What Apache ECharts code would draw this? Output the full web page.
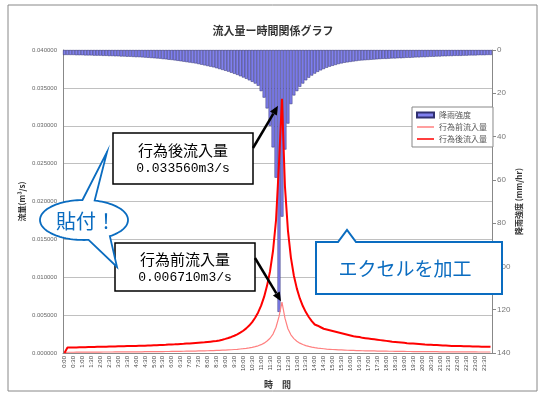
<!DOCTYPE html>
<html>
<head>
<meta charset="utf-8">
<script src="https://cdn.jsdelivr.net/npm/echarts@6/dist/echarts.min.js"></script>
<style>
  html, body { margin: 0; padding: 0; background: #fff; }
  #chart { width: 552px; height: 398px; }
</style>
</head>
<body>
<div id="chart"></div>
<script>
// 10分刻みの時刻 (0:00 - 23:50)
var times = [];
for (var h = 0; h < 24; h++) {
  for (var m = 0; m < 60; m += 10) times.push(h + ':' + (m < 10 ? '0' + m : m));
}

// 降雨強度 (mm/hr)
var rain = [
  2.3, 2.3, 2.3, 2.3, 2.4, 2.4, 2.4, 2.5, 2.5, 2.5,
  2.6, 2.6, 2.6, 2.7, 2.7, 2.8, 2.8, 2.9, 2.9, 3.0,
  3.0, 3.1, 3.1, 3.2, 3.3, 3.3, 3.4, 3.5, 3.6, 3.7,
  3.8, 3.9, 4.0, 4.2, 4.3, 4.5, 4.6, 4.8, 5.0, 5.2,
  5.4, 5.6, 5.8, 6.0, 6.2, 6.5, 6.8, 7.1, 7.4, 7.7,
  8.0, 8.4, 8.8, 9.2, 9.6, 10.0, 10.5, 11.0, 11.5, 12.1,
  12.7, 13.3, 14.0, 14.7, 15.5, 16.5, 19, 22, 27, 35,
  45, 59, 121,
  77, 46, 34, 25, 21, 19, 17, 15.5, 14, 12.8,
  11.8, 10.9, 10.1, 9.4, 8.8, 8.2, 7.7, 7.3, 6.9, 6.5,
  6.2, 5.9, 5.7, 5.5, 5.3, 5.1, 4.9, 4.8, 4.7, 4.6,
  4.5, 4.4, 4.3, 4.2, 4.1, 4.1, 4.0, 3.9, 3.9, 3.8,
  3.8, 3.7, 3.6, 3.6, 3.5, 3.4, 3.4, 3.3, 3.3, 3.2,
  3.1, 3.1, 3.0, 3.0, 2.9, 2.9, 2.8, 2.8, 2.7, 2.7,
  2.7, 2.6, 2.6, 2.5, 2.5, 2.5, 2.4, 2.4, 2.4, 2.3,
  2.3
];

// 行為前流入量 (m3/s)
var flowBefore = [
  0,
  0.00010, 0.00010, 0.00010, 0.00011, 0.00011, 0.00011, 0.00011, 0.00012, 0.00012, 0.00012,
  0.00012, 0.00012, 0.00013, 0.00013, 0.00013, 0.00013, 0.00014, 0.00014, 0.00014, 0.00014,
  0.00015, 0.00015, 0.00015, 0.00016, 0.00016, 0.00016, 0.00017, 0.00017, 0.00017, 0.00018,
  0.00018, 0.00019, 0.00019, 0.00020, 0.00020, 0.00021, 0.00021, 0.00022, 0.00022, 0.00023,
  0.00024, 0.00024, 0.00025, 0.00026, 0.00027, 0.00028, 0.00029, 0.00030, 0.00031, 0.00032,
  0.00034, 0.00035, 0.00037, 0.00039, 0.00041, 0.00043, 0.00046, 0.00049, 0.00053, 0.00057,
  0.00062, 0.00068, 0.00075, 0.00084, 0.00095, 0.00110, 0.00130, 0.00158, 0.00195, 0.00250,
  0.00340, 0.00480, 0.00671, 0.00460, 0.00320, 0.00240, 0.00190, 0.00155, 0.00130, 0.00112,
  0.00098, 0.00087, 0.00078, 0.00071, 0.00065, 0.00060, 0.00056, 0.00052, 0.00049, 0.00046,
  0.00044, 0.00042, 0.00040, 0.00038, 0.00036, 0.00035, 0.00034, 0.00032, 0.00031, 0.00030,
  0.00029, 0.00028, 0.00027, 0.00027, 0.00026, 0.00025, 0.00025, 0.00024, 0.00023, 0.00023,
  0.00022, 0.00022, 0.00021, 0.00021, 0.00020, 0.00020, 0.00019, 0.00019, 0.00019, 0.00018,
  0.00018, 0.00018, 0.00017, 0.00017, 0.00017, 0.00016, 0.00016, 0.00016, 0.00016, 0.00015,
  0.00015, 0.00015, 0.00015, 0.00014, 0.00014, 0.00014, 0.00014, 0.00014, 0.00013, 0.00013,
  0.00013, 0.00013, 0.00013
];

// 行為後流入量 (m3/s)
var flowAfter = [
  0,
  0.00072, 0.00073, 0.00074, 0.00074, 0.00075, 0.00076, 0.00077, 0.00078, 0.00079, 0.00080,
  0.00081, 0.00082, 0.00083, 0.00084, 0.00085, 0.00086, 0.00087, 0.00088, 0.00089, 0.00090,
  0.00091, 0.00092, 0.00093, 0.00094, 0.00095, 0.00096, 0.00097, 0.00099, 0.00100, 0.00102,
  0.00103, 0.00105, 0.00107, 0.00109, 0.00111, 0.00113, 0.00115, 0.00117, 0.00119, 0.00121,
  0.00124, 0.00127, 0.00130, 0.00133, 0.00136, 0.00139, 0.00142, 0.00146, 0.00150, 0.00154,
  0.00158, 0.00166, 0.00175, 0.00186, 0.00198, 0.00212, 0.00228, 0.00246, 0.00268, 0.00294,
  0.00325, 0.00362, 0.00408, 0.00465, 0.00535, 0.00625, 0.00740, 0.00890, 0.01080, 0.01350,
  0.01750, 0.02500, 0.03356, 0.02200, 0.01620, 0.01260, 0.01020, 0.00850, 0.00720, 0.00620,
  0.00540, 0.00475, 0.00420, 0.00376, 0.00360, 0.00340, 0.00320, 0.00310, 0.00300, 0.00290,
  0.00280, 0.00270, 0.00260, 0.00250, 0.00240, 0.00230, 0.00220, 0.00215, 0.00210, 0.00200,
  0.00195, 0.00190, 0.00185, 0.00180, 0.00175, 0.00170, 0.00165, 0.00160, 0.00155, 0.00150,
  0.00146, 0.00142, 0.00138, 0.00134, 0.00130, 0.00127, 0.00124, 0.00121, 0.00118, 0.00115,
  0.00112, 0.00110, 0.00108, 0.00106, 0.00104, 0.00102, 0.00100, 0.00098, 0.00096, 0.00094,
  0.00093, 0.00092, 0.00091, 0.00090, 0.00089, 0.00088, 0.00087, 0.00086, 0.00085, 0.00084,
  0.00083, 0.00082, 0.00081
];

var peakBeforeIdx = 73;
var peakAfterIdx = 73;

var jp = '"Noto Sans CJK JP", sans-serif';
var mono = '"Liberation Mono", "DejaVu Sans Mono", monospace';

var myChart = echarts.init(document.getElementById('chart'));

var option = {
  animation: false,
  backgroundColor: '#fff',
  title: {
    text: '流入量ー時間関係グラフ',
    left: 268,
    top: 20,
    textAlign: 'center',
    textStyle: { fontFamily: jp, fontSize: 11, fontWeight: 'bold', color: '#333' }
  },
  legend: {
    orient: 'vertical',
    left: 412,
    top: 107,
    padding: [4, 6, 4, 4],
    itemGap: 4,
    itemWidth: 17,
    itemHeight: 5,
    backgroundColor: '#fff',
    borderColor: '#888',
    borderWidth: 1,
    textStyle: { fontFamily: jp, fontSize: 8, color: '#555' },
    data: [
      { name: '降雨強度', icon: 'rect' },
      { name: '行為前流入量', icon: 'path://M0,0 L0,5 M0,2 L20,2 L20,3 L0,3 Z' },
      { name: '行為後流入量', icon: 'path://M0,0 L0,5 M0,1.5 L20,1.5 L20,3.5 L0,3.5 Z' }
    ]
  },
  grid: { left: 63, right: 60, top: 50, bottom: 45 },
  xAxis: {
    type: 'category',
    data: times,
    boundaryGap: true,
    name: '時　間',
    nameLocation: 'middle',
    nameGap: 27,
    nameMoveOverlap: false,
    nameTextStyle: { fontFamily: jp, fontSize: 9, fontWeight: 'bold', color: '#333' },
    axisLine: { lineStyle: { color: '#888' } },
    axisTick: { interval: 0, length: 2, lineStyle: { color: '#888' } },
    axisLabel: { interval: 2, rotate: 90, fontSize: 6, color: '#444', margin: 3, fontFamily: 'Arial, "Liberation Sans", sans-serif' }
  },
  yAxis: [
    {
      type: 'value',
      min: 0,
      max: 0.04,
      interval: 0.005,
      name: '流量(m³/s)',
      nameLocation: 'middle',
      nameRotate: 90,
      nameGap: 37,
      nameMoveOverlap: false,
      nameTextStyle: { fontFamily: jp, fontSize: 8, fontWeight: 'bold', color: '#333' },
      axisLine: { show: true, lineStyle: { color: '#888' } },
      axisTick: { show: false },
      axisLabel: { fontSize: 6, color: '#666', margin: 6, formatter: function (v) { return v.toFixed(6); } },
      splitLine: { lineStyle: { color: '#c0c0c0' } }
    },
    {
      type: 'value',
      min: 0,
      max: 140,
      interval: 20,
      inverse: true,
      position: 'right',
      name: '降雨強度 (mm/hr)',
      nameLocation: 'middle',
      nameRotate: 90,
      nameGap: 23,
      nameMoveOverlap: false,
      nameTextStyle: { fontFamily: jp, fontSize: 8, fontWeight: 'bold', color: '#333' },
      axisLine: { show: true, lineStyle: { color: '#888' } },
      axisTick: { show: true, length: 4, lineStyle: { color: '#888' } },
      axisLabel: { fontSize: 8, color: '#777', margin: 5 },
      splitLine: { show: false }
    }
  ],
  series: [
    {
      name: '降雨強度',
      type: 'bar',
      yAxisIndex: 1,
      data: rain,
      barCategoryGap: '0%',
      itemStyle: { color: '#8080ee', borderColor: '#303070', borderWidth: 0.5 }
    },
    {
      name: '行為前流入量',
      type: 'line',
      yAxisIndex: 0,
      data: flowBefore,
      symbol: 'none',
      lineStyle: { color: '#ff8080', width: 1.2 },
      itemStyle: { color: '#ff4040' },
      z: 3
    },
    {
      name: '行為後流入量',
      type: 'line',
      yAxisIndex: 0,
      data: flowAfter,
      symbol: 'none',
      lineStyle: { color: '#ff0000', width: 2 },
      itemStyle: { color: '#ff0000' },
      z: 4
    }
  ]
};

myChart.setOption(option);

// 注記（矢印・吹き出し）
function arrow(x1, y1, x2, y2) {
  var ang = Math.atan2(y2 - y1, x2 - x1);
  var L = 9, W = 4;
  var bx = x2 - L * Math.cos(ang), by = y2 - L * Math.sin(ang);
  var px = -Math.sin(ang) * W, py = Math.cos(ang) * W;
  return [
    { type: 'line', z: 100, shape: { x1: x1, y1: y1, x2: bx, y2: by }, style: { stroke: '#000', lineWidth: 2.5 } },
    { type: 'polygon', z: 100, shape: { points: [[x2, y2], [bx + px, by + py], [bx - px, by - py]] }, style: { fill: '#000' } }
  ];
}

function bubblePoints(cx, cy, rx, ry, spikes) {
  var pts = [];
  for (var a = -180; a < 180; a += 3) {
    var inSpike = null;
    spikes.forEach(function (s) { if (a > s.a1 && a < s.a2) inSpike = s; });
    if (inSpike) {
      if (!inSpike.done) {
        var t1 = inSpike.a1 * Math.PI / 180, t2 = inSpike.a2 * Math.PI / 180;
        pts.push([cx + rx * Math.cos(t1), cy + ry * Math.sin(t1)]);
        pts.push(inSpike.tip);
        pts.push([cx + rx * Math.cos(t2), cy + ry * Math.sin(t2)]);
        inSpike.done = true;
      }
      continue;
    }
    var t = a * Math.PI / 180;
    pts.push([cx + rx * Math.cos(t), cy + ry * Math.sin(t)]);
  }
  return pts;
}

var pA = myChart.convertToPixel({ xAxisIndex: 0, yAxisIndex: 0 }, [peakAfterIdx, flowAfter[peakAfterIdx]]);
var pB = myChart.convertToPixel({ xAxisIndex: 0, yAxisIndex: 0 }, [peakBeforeIdx, flowBefore[peakBeforeIdx]]);

var blue = '#0a6cc0';
var g = [
  { type: 'rect', z: -1, shape: { x: 8, y: 5, width: 529, height: 386 }, style: { fill: 'none', stroke: '#888', lineWidth: 1 } },
  // 行為後
  { type: 'rect', z: 100, shape: { x: 113, y: 133, width: 140, height: 51 }, style: { fill: '#fff', stroke: '#000', lineWidth: 1.5 } },
  { type: 'text', z: 101, style: { x: 183, y: 150, text: '行為後流入量', fontFamily: jp, fontSize: 15, fill: '#000', align: 'center', verticalAlign: 'middle' } },
  { type: 'text', z: 101, style: { x: 183, y: 169, text: '0.033560m3/s', fontFamily: mono, fontSize: 13, fill: '#000', align: 'center', verticalAlign: 'middle' } },
  // 行為前
  { type: 'rect', z: 100, shape: { x: 115, y: 243, width: 140, height: 48 }, style: { fill: '#fff', stroke: '#000', lineWidth: 1.5 } },
  { type: 'text', z: 101, style: { x: 185, y: 259, text: '行為前流入量', fontFamily: jp, fontSize: 15, fill: '#000', align: 'center', verticalAlign: 'middle' } },
  { type: 'text', z: 101, style: { x: 185, y: 278, text: '0.006710m3/s', fontFamily: mono, fontSize: 13, fill: '#000', align: 'center', verticalAlign: 'middle' } },
  // 貼付！
  { type: 'polygon', z: 100, shape: { points: bubblePoints(84, 220, 44, 20, [
      { a1: -92, a2: -76, tip: [107, 152] },
      { a1: 54, a2: 84, tip: [117, 267] }
    ]) }, style: { fill: '#fff', stroke: blue, lineWidth: 1.8 } },
  { type: 'text', z: 101, style: { x: 86, y: 221, text: '貼付！', fontFamily: jp, fontSize: 20, fill: blue, align: 'center', verticalAlign: 'middle' } },
  // エクセルを加工
  { type: 'polygon', z: 100, shape: { points: [[316, 242], [338, 242], [347, 230], [356, 242], [502, 242], [502, 294], [316, 294]] }, style: { fill: '#fff', stroke: blue, lineWidth: 2 } },
  { type: 'text', z: 101, style: { x: 405, y: 269, text: 'エクセルを加工', fontFamily: jp, fontSize: 19, fill: blue, align: 'center', verticalAlign: 'middle' } }
];
g = g.concat(arrow(253, 148, pA[0] - 4, pA[1] + 7));
g = g.concat(arrow(255, 258, pB[0] - 1, pB[1] - 1));

myChart.setOption({ graphic: g });
</script>
</body>
</html>
